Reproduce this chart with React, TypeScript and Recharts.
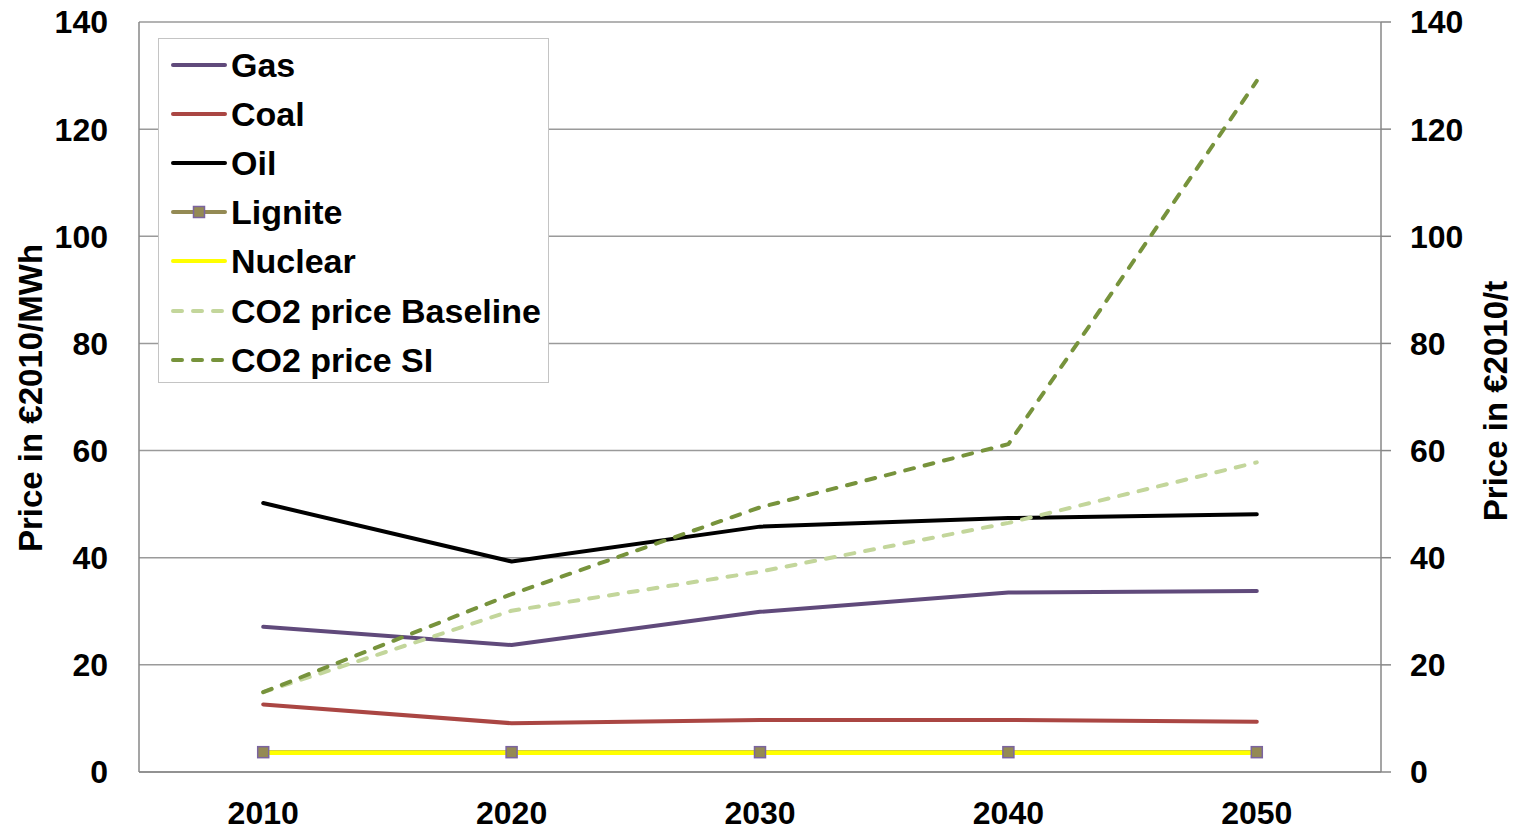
import React from "react";
import {
  ComposedChart,
  Line,
  XAxis,
  YAxis,
  CartesianGrid,
  Legend,
} from "recharts";

// Energy / CO2 price paths.
const years = ["2010", "2020", "2030", "2040", "2050"];
const gas = [27.1, 23.7, 29.9, 33.5, 33.8];
const coal = [12.6, 9.1, 9.7, 9.7, 9.4];
const oil = [50.2, 39.3, 45.8, 47.4, 48.1];
const lignite = [3.7, 3.7, 3.7, 3.7, 3.7];
const nuclear = [3.6, 3.6, 3.6, 3.6, 3.6];
const co2Baseline = [14.9, 30.1, 37.4, 46.5, 57.8];
const co2SI = [14.9, 33.2, 49.4, 61.2, 129.0];

const yTicks = [0, 20, 40, 60, 80, 100, 120, 140];

const data = years.map((year, i) => ({
  year,
  gas: gas[i],
  coal: coal[i],
  oil: oil[i],
  lignite: lignite[i],
  nuclear: nuclear[i],
  co2Baseline: co2Baseline[i],
  co2SI: co2SI[i],
}));

const FONT = '"Liberation Sans", Arial, Helvetica, sans-serif';
const AXIS_GREY = "#878787";
const DASH = "9 11";

interface SeriesDef {
  key: string;
  name: string;
  color: string;
  dashed?: boolean;
  marker?: boolean;
  axis: "left" | "right";
}

const series: SeriesDef[] = [
  { key: "gas", name: "Gas", color: "#604A7B", axis: "left" },
  { key: "coal", name: "Coal", color: "#AA4643", axis: "left" },
  { key: "oil", name: "Oil", color: "#000000", axis: "left" },
  { key: "lignite", name: "Lignite", color: "#948A54", marker: true, axis: "left" },
  { key: "nuclear", name: "Nuclear", color: "#FFFF00", axis: "left" },
  { key: "co2Baseline", name: "CO2 price Baseline", color: "#C3D69B", dashed: true, axis: "right" },
  { key: "co2SI", name: "CO2 price SI", color: "#77933C", dashed: true, axis: "right" },
];

const tickStyle = { fill: "#000", fontSize: 32, fontWeight: 700, fontFamily: FONT };

/** Square lignite marker: olive fill, purple rim. */
function SquareDot(props: any) {
  const { cx, cy } = props;
  if (cx == null || cy == null) return null;
  return (
    <rect
      x={cx - 5.5}
      y={cy - 5.5}
      width={11}
      height={11}
      fill="#948A54"
      stroke="#7B64A0"
      strokeWidth={1.5}
    />
  );
}

// Rotated axis title, placed at a fixed page position (centre of the plot height).
function AxisTitle({ text, cx, cy }: any) {
  return (
    <text
      x={cx}
      y={cy}
      transform={`rotate(-90 ${cx} ${cy})`}
      textAnchor="middle"
      dominantBaseline="central"
      fontFamily={FONT}
      fontWeight={700}
      fontSize={33}
      fill="#000"
    >
      {text}
    </text>
  );
}

function LegendBox() {
  return (
    <div
      style={{
        boxSizing: "border-box",
        width: 391,
        height: 345,
        background: "#fff",
        border: "1.5px solid #c4c4c4",
        paddingTop: 1,
        fontFamily: FONT,
      }}
    >
      {series.map((s) => (
        <div
          key={s.key}
          style={{ display: "flex", alignItems: "center", height: 49.2, paddingLeft: 12 }}
        >
          <svg width={56} height={14} style={{ display: "block" }}>
            <line
              x1={2}
              y1={7}
              x2={54}
              y2={7}
              stroke={s.color}
              strokeWidth={4}
              strokeLinecap="round"
              strokeDasharray={s.dashed ? DASH : undefined}
            />
            {s.marker && (
              <rect x={22.5} y={1.5} width={11} height={11} fill="#948A54" stroke="#7B64A0" strokeWidth={1.5} />
            )}
          </svg>
          <span
            style={{
              marginLeft: 4,
              fontSize: 34,
              fontWeight: 700,
              color: "#000",
              lineHeight: 1,
              whiteSpace: "nowrap",
            }}
          >
            {s.name}
          </span>
        </div>
      ))}
    </div>
  );
}

export default function App() {
  return (
    <div style={{ position: "absolute", left: 0, top: 0, width: 1515, height: 830, background: "#fff" }}>
      <ComposedChart
        width={1515}
        height={830}
        data={data}
        margin={{ top: 22, right: 0, bottom: 0, left: 0 }}
      >
        <CartesianGrid yAxisId="left" vertical={false} stroke="#9a9a9a" strokeWidth={1.5} />
        <XAxis
          dataKey="year"
          scale="band"
          height={58}
          axisLine={{ stroke: AXIS_GREY, strokeWidth: 1.5 }}
          tickLine={false}
          tickSize={0}
          tickMargin={29}
          tick={tickStyle}
          interval={0}
        />
        <YAxis
          yAxisId="left"
          orientation="left"
          width={139}
          domain={[0, 140]}
          ticks={yTicks}
          interval={0}
          axisLine={{ stroke: AXIS_GREY, strokeWidth: 1.5 }}
          tickLine={false}
          tickSize={0}
          tickMargin={31}
          tick={tickStyle}
          label={<AxisTitle text="Price in €2010/MWh" cx={30} cy={398} />}
        />
        <YAxis
          yAxisId="right"
          orientation="right"
          width={134}
          domain={[0, 140]}
          ticks={yTicks}
          interval={0}
          axisLine={{ stroke: AXIS_GREY, strokeWidth: 1.5 }}
          tickLine={{ stroke: AXIS_GREY, strokeWidth: 1.5 }}
          tickSize={10}
          tickMargin={19}
          tick={{ ...tickStyle, textAnchor: "start" }}
          label={<AxisTitle text="Price in €2010/t" cx={1495} cy={401} />}
        />
        {series.map((s) => (
          <Line
            key={s.key}
            yAxisId={s.axis}
            type="linear"
            dataKey={s.key}
            name={s.name}
            stroke={s.color}
            strokeWidth={s.key === "nuclear" ? 4.5 : 4}
            strokeDasharray={s.dashed ? DASH : undefined}
            strokeLinecap="round"
            strokeLinejoin="round"
            dot={s.marker ? <SquareDot /> : false}
            activeDot={false}
            isAnimationActive={false}
          />
        ))}
        <Legend
          layout="vertical"
          align="center"
          verticalAlign="middle"
          content={() => <LegendBox />}
          wrapperStyle={{ position: "absolute", left: 158, top: 38, width: 391, height: 345 }}
        />
      </ComposedChart>
    </div>
  );
}
